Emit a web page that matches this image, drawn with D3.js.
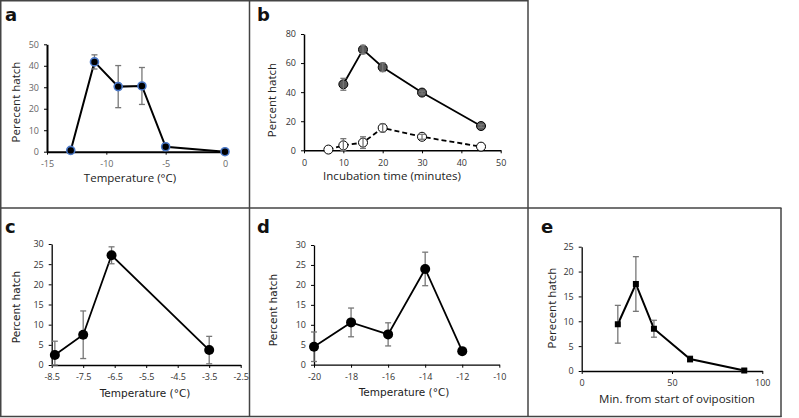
<!DOCTYPE html>
<html lang="en">
<head>
<meta charset="utf-8">
<title>Percent hatch panels</title>
<script src="https://d3js.org/d3.v7.min.js"></script>
<style>
  body { margin: 0; background: #fff; }
  svg { display: block; }
  .tick text { font-family: "Open Sans", sans-serif; }
</style>
</head>
<body>
<svg id="chart" width="799" height="418"></svg>
<script>
// panel a: temperature (°C)
var aTemp = [-13, -11, -9, -7, -5, 0];
var aHatch = [0.6, 41.8, 30.3, 30.6, 2.3, 0];
var aErr = [0.4, 3.3, 9.8, 8.6, 0.4, 0];

// panel b: incubation time (minutes), two series
var bTimeFilled = [10, 15, 20, 30, 45];
var bHatchFilled = [45.4, 69.3, 57.1, 39.7, 16.7];
var bErrFilled = [4.1, 2.8, 2.9, 1.0, 1.0];
var bTimeOpen = [6.2, 10, 15, 20, 30, 45];
var bHatchOpen = [0.5, 3.4, 5.3, 15.4, 9.3, 2.5];
var bErrOpen = [0, 4.6, 4.0, 2.7, 1.7, 0];

// panel c
var cTemp = [-8.4, -7.5, -6.6, -3.5];
var cHatch = [2.5, 7.5, 27.2, 3.7];
var cErr = [3.4, 5.9, 2.1, 3.4];

// panel d
var dTemp = [-20, -18, -16, -14, -12];
var dHatch = [4.5, 10.6, 7.6, 24.0, 3.4];
var dErr = [3.7, 3.6, 2.9, 4.2, 0.5];

// panel e
var eMin = [20, 30, 40, 60, 90];
var eHatch = [9.4, 17.5, 8.5, 2.4, 0.1];
var eErr = [3.8, 5.5, 1.7, 0.6, 0.3];

// tick labels
var aXTicks = [-15, -10, -5, 0], aYTicks = [0, 10, 20, 30, 40, 50];
var bXTicks = [0, 10, 20, 30, 40, 50], bYTicks = [0, 20, 40, 60, 80];
var cXTicks = [-8.5, -7.5, -6.5, -5.5, -4.5, -3.5, -2.5], cYTicks = [0, 5, 10, 15, 20, 25, 30];
var dXTicks = [-20, -18, -16, -14, -12, -10], dYTicks = [0, 5, 10, 15, 20, 25, 30];
var eXTicks = [0, 50, 100], eYTicks = [0, 5, 10, 15, 20, 25];

var svg = d3.select("#chart");

// panel frames
var frame = svg.append("g").attr("stroke", "#444").attr("stroke-width", 1.5);
[[0, 0.75, 528, 0.75], [0.75, 0, 0.75, 417], [0, 416.5, 781.5, 416.5],
 [249.5, 0, 249.5, 417], [528, 0, 528, 417], [0, 208, 781.5, 208], [781, 208, 781, 417]]
  .forEach(function(l) {
    frame.append("line").attr("x1", l[0]).attr("y1", l[1]).attr("x2", l[2]).attr("y2", l[3]);
  });

function fmt(d) { return String(d); }

function panel(p) {
  var g = svg.append("g");
  var x = d3.scaleLinear().domain(p.xDomain).range(p.xRange);
  var y = d3.scaleLinear().domain(p.yDomain).range(p.yRange);

  g.append("g")
    .attr("transform", "translate(0," + p.yRange[0] + ")")
    .call(d3.axisBottom(x).tickValues(p.xTicks).tickFormat(fmt).tickSize(3).tickSizeOuter(0).tickPadding(6))
    .call(function(ax) {
      ax.select(".domain").attr("stroke", "#000").attr("stroke-width", p.axisW);
      ax.selectAll(".tick line").attr("stroke", "#000");
      ax.selectAll(".tick text").attr("fill", p.tickColor).style("font-size", "9px");
    });
  g.append("g")
    .attr("transform", "translate(" + p.xRange[0] + ",0)")
    .call(d3.axisLeft(y).tickValues(p.yTicks).tickFormat(fmt).tickSize(3).tickSizeOuter(0).tickPadding(5))
    .call(function(ax) {
      ax.select(".domain").attr("stroke", "#000").attr("stroke-width", p.axisW);
      ax.selectAll(".tick line").attr("stroke", "#000");
      ax.selectAll(".tick text").attr("fill", p.tickColor).style("font-size", "9px");
    });

  g.append("text")
    .attr("x", p.label[0]).attr("y", p.label[1])
    .style("font-family", "DejaVu Sans, sans-serif").style("font-weight", "bold")
    .style("font-size", "18px").attr("fill", "#111")
    .text(p.name);
  g.append("text")
    .attr("x", p.xTitle[0]).attr("y", p.xTitle[1]).attr("text-anchor", "middle")
    .style("font-family", p.font).style("font-size", p.titleSize + "px").attr("fill", "#222")
    .text(p.xText);
  g.append("text")
    .attr("transform", "translate(" + p.yTitle[0] + "," + p.yTitle[1] + ") rotate(-90)")
    .attr("text-anchor", "middle")
    .style("font-family", p.font).style("font-size", p.titleSize + "px").attr("fill", "#222")
    .text(p.yText);

  p.series.forEach(function(s) {
    var pts = s.xs.map(function(v, i) { return { x: v, y: s.ys[i], e: s.es[i] }; });
    var line = d3.line().x(function(d) { return x(d.x); }).y(function(d) { return y(d.y); });
    g.append("path").datum(pts)
      .attr("d", line).attr("fill", "none").attr("stroke", "#000")
      .attr("stroke-width", s.lineW).attr("stroke-dasharray", s.dash || null);

    var errG = g.append("g").attr("stroke", "#777").attr("stroke-width", 1.3);
    function drawErr() {
      pts.filter(function(d) { return d.e > 0; }).forEach(function(d) {
        var cx = x(d.x), y0 = y(Math.max(0, d.y - d.e)), y1 = y(d.y + d.e);
        errG.append("line").attr("x1", cx).attr("x2", cx).attr("y1", y0).attr("y2", y1);
        errG.append("line").attr("x1", cx - 3).attr("x2", cx + 3).attr("y1", y0).attr("y2", y0);
        errG.append("line").attr("x1", cx - 3).attr("x2", cx + 3).attr("y1", y1).attr("y2", y1);
      });
    }
    if (!s.errOnTop) drawErr();

    if (s.square) {
      g.selectAll(null).data(pts).enter().append("rect")
        .attr("x", function(d) { return x(d.x) - s.r; })
        .attr("y", function(d) { return y(d.y) - s.r; })
        .attr("width", s.r * 2).attr("height", s.r * 2)
        .attr("fill", s.fill).attr("stroke", s.stroke).attr("stroke-width", s.sw);
    } else {
      g.selectAll(null).data(pts).enter().append("circle")
        .attr("cx", function(d) { return x(d.x); })
        .attr("cy", function(d) { return y(d.y); })
        .attr("r", s.r)
        .attr("fill", s.fill).attr("stroke", s.stroke).attr("stroke-width", s.sw);
    }
    if (s.errOnTop) { errG.raise(); drawErr(); }
  });
}

panel({
  name: "a", label: [5, 21], font: "Open Sans, sans-serif", titleSize: 11.5,
  xDomain: [-15, 0], xRange: [47, 225], yDomain: [0, 50], yRange: [151.7, 44.3],
  xTicks: aXTicks, yTicks: aYTicks, tickColor: "#666", axisW: 2,
  xText: "Temperature (°C)", xTitle: [130, 182], yText: "Perecent hatch", yTitle: [20, 102],
  series: [{ xs: aTemp, ys: aHatch, es: aErr, r: 4, fill: "#000", stroke: "#4a78c8", sw: 1.6, lineW: 2 }]
});

panel({
  name: "b", label: [257, 21], font: "Open Sans, sans-serif", titleSize: 11.5,
  xDomain: [0, 50], xRange: [304, 500.7], yDomain: [0, 80], yRange: [150.3, 34],
  xTicks: bXTicks, yTicks: bYTicks, tickColor: "#333", axisW: 1.5,
  xText: "Incubation time (minutes)", xTitle: [392, 180], yText: "Percent hatch", yTitle: [276, 100],
  series: [
    { xs: bTimeFilled, ys: bHatchFilled, es: bErrFilled, r: 4.5, fill: "#5a5a5a", stroke: "#000", sw: 1, lineW: 1.8, errOnTop: true },
    { xs: bTimeOpen, ys: bHatchOpen, es: bErrOpen, r: 4.5, fill: "#fff", stroke: "#000", sw: 1, lineW: 1.8, dash: "5,3", errOnTop: true }
  ]
});

panel({
  name: "c", label: [5, 233], font: "DejaVu Sans, sans-serif", titleSize: 10.5,
  xDomain: [-8.5, -2.5], xRange: [51.7, 240.7], yDomain: [0, 30], yRange: [365, 244],
  xTicks: cXTicks, yTicks: cYTicks, tickColor: "#333", axisW: 1.3,
  xText: "Temperature (°C)", xTitle: [145, 397], yText: "Percent hatch", yTitle: [20, 307],
  series: [{ xs: cTemp, ys: cHatch, es: cErr, r: 5, fill: "#000", stroke: "#000", sw: 0, lineW: 1.8 }]
});

panel({
  name: "d", label: [257, 233], font: "DejaVu Sans, sans-serif", titleSize: 10.5,
  xDomain: [-20, -10], xRange: [314, 499.3], yDomain: [0, 30], yRange: [364.7, 245],
  xTicks: dXTicks, yTicks: dYTicks, tickColor: "#333", axisW: 1.3,
  xText: "Temperature (°C)", xTitle: [404, 396], yText: "Percent hatch", yTitle: [277, 310],
  series: [{ xs: dTemp, ys: dHatch, es: dErr, r: 5, fill: "#000", stroke: "#000", sw: 0, lineW: 1.8 }]
});

panel({
  name: "e", label: [541, 233], font: "Open Sans, sans-serif", titleSize: 11.5,
  xDomain: [0, 100], xRange: [581.7, 762.3], yDomain: [0, 25], yRange: [371, 246.7],
  xTicks: eXTicks, yTicks: eYTicks, tickColor: "#333", axisW: 1.3,
  xText: "Min. from start of oviposition", xTitle: [677, 403], yText: "Perecent hatch", yTitle: [556, 308],
  series: [{ xs: eMin, ys: eHatch, es: eErr, r: 3, fill: "#000", stroke: "#000", sw: 0, lineW: 2, square: true }]
});
</script>
</body>
</html>
